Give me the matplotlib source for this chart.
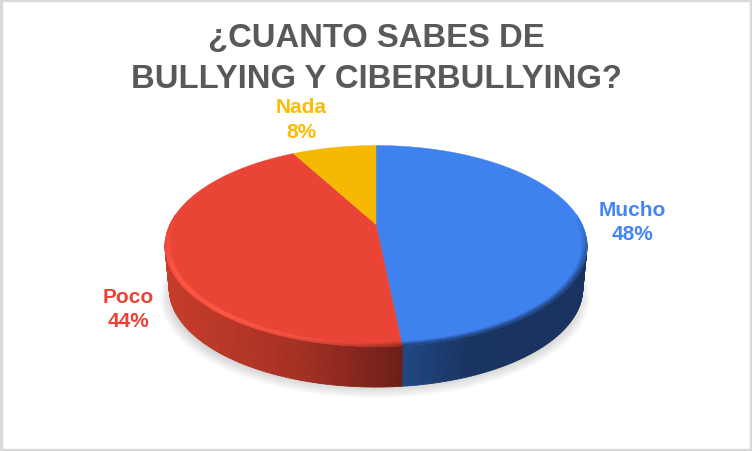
import matplotlib
matplotlib.use("Agg")
import matplotlib.pyplot as plt
from matplotlib.patches import Ellipse, Rectangle
import numpy as np

labels = ["Mucho", "Poco", "Nada"]
values = [48.4, 43.7, 7.9]
shown = ["48%", "44%", "8%"]
colors = ["#3F81EE", "#E94435", "#F7B801"]
text_colors = ["#4285F4", "#EA4335", "#FBBC04"]
label_pos = [(632, 222.5), (128, 309.5), (301, 120)]
title_lines = ["¿CUANTO SABES DE", "BULLYING Y CIBERBULLYING?"]

# pie is a tilted disc, so centre is not the middle of the ellipse
cx, cy = 376, 225.5
k = 0.214
a, b = 206.1, 95.9
depth = 43.0
bottom_scale = 0.98


def project(theta, r=1.0):
    u = r * np.sin(theta)
    v = r * np.cos(theta)
    w = 1 + k * v
    return cx + a * u / w, cy - b * v / w


def mix(c1, c2, t):
    c1 = np.array(matplotlib.colors.to_rgb(c1))
    c2 = np.array(matplotlib.colors.to_rgb(c2))
    return tuple(c1 + (c2 - c1) * t)


fig = plt.figure(figsize=(7.52, 4.52), dpi=100)
ax = fig.add_axes([0, 0, 1, 1])
ax.set_xlim(0, 752)
ax.set_ylim(452, 0)
ax.axis("off")

ax.add_patch(Rectangle((1, 1), 750, 450, fc="white", ec="#D9D9D9", lw=2.5))

# soft shadow under the disc
for i in range(14):
    ax.add_patch(Ellipse((375, 298), 2 * (198 + i * 1.3), 2 * (84 + i * 1.3),
                         fc="#808080", ec="none", alpha=0.035, zorder=1))

edges = np.concatenate([[0], np.cumsum(values)]) / sum(values) * 2 * np.pi

# side wall, shaded by x position
wall_x = [165, 300, 402, 403, 470, 590]
wall_r = [198, 165, 108, 32, 26, 25]
wall_g = [60, 48, 30, 72, 52, 50]
wall_b = [42, 36, 24, 130, 98, 95]
for i in range(len(values)):
    th = np.linspace(edges[i], edges[i + 1], 160)
    for t0, t1 in zip(th[:-1], th[1:]):
        x0, y0 = project(t0)
        x1, y1 = project(t1)
        if y0 < 240 and y1 < 240:
            continue
        bx0 = cx + (x0 - cx) * bottom_scale
        by0 = cy + (y0 - cy) * bottom_scale + depth
        bx1 = cx + (x1 - cx) * bottom_scale
        by1 = cy + (y1 - cy) * bottom_scale + depth
        xm = (x0 + x1) / 2
        c = (np.interp(xm, wall_x, wall_r) / 255,
             np.interp(xm, wall_x, wall_g) / 255,
             np.interp(xm, wall_x, wall_b) / 255)
        ax.fill([x0, x1, bx1, bx0], [y0, y1, by1, by0], color=c, lw=0.6, zorder=2)

# top face
for i in range(len(values)):
    th = np.linspace(edges[i], edges[i + 1], 200)
    px, py = project(th)
    ax.fill(np.r_[cx, px], np.r_[cy, py], color=colors[i], lw=0.3, zorder=3)

# bevel along the front rim
for i in range(2):
    th = np.linspace(edges[i], edges[i + 1], 200)
    rings = np.linspace(0.97, 1.0, 7)
    for r0, r1 in zip(rings[:-1], rings[1:]):
        strength = (r0 - 0.97) / 0.03
        for t0, t1 in zip(th[:-1], th[1:]):
            x0, y0 = project(t0, r1)
            x1, y1 = project(t1, r1)
            x2, y2 = project(t1, r0)
            x3, y3 = project(t0, r0)
            front = np.clip(((y0 - cy) + 10) / 60, 0, 1)
            if front == 0:
                continue
            if i == 0:
                c = mix(colors[0], "#1B3A6B", strength * front)
            else:
                xn = np.clip((x0 - 170) / 232, 0, 1)
                glow = np.sin(strength * np.pi) * front
                c = mix(colors[1], "#FF5A48", glow * (1 - xn ** 3))
                c = mix(c, "#8A2A20", strength * xn ** 3 * front)
            ax.fill([x0, x1, x2, x3], [y0, y1, y2, y3], color=c, lw=0.4, zorder=4)

for lab, txt, col, pos in zip(labels, shown, text_colors, label_pos):
    ax.text(pos[0], pos[1], lab + "\n" + txt, color=col, ha="center", va="center",
            family="Liberation Sans", fontweight="bold", fontsize=15, linespacing=1.35, zorder=6)

ax.text(376, 38, title_lines[0], color="#595959", ha="center", va="center",
        family="Liberation Sans", fontweight="bold", fontsize=23.6, zorder=6)
ax.text(376, 80, title_lines[1], color="#595959", ha="center", va="center",
        family="Liberation Sans", fontweight="bold", fontsize=23.6, zorder=6)

fig.savefig("out.png", dpi=100)
